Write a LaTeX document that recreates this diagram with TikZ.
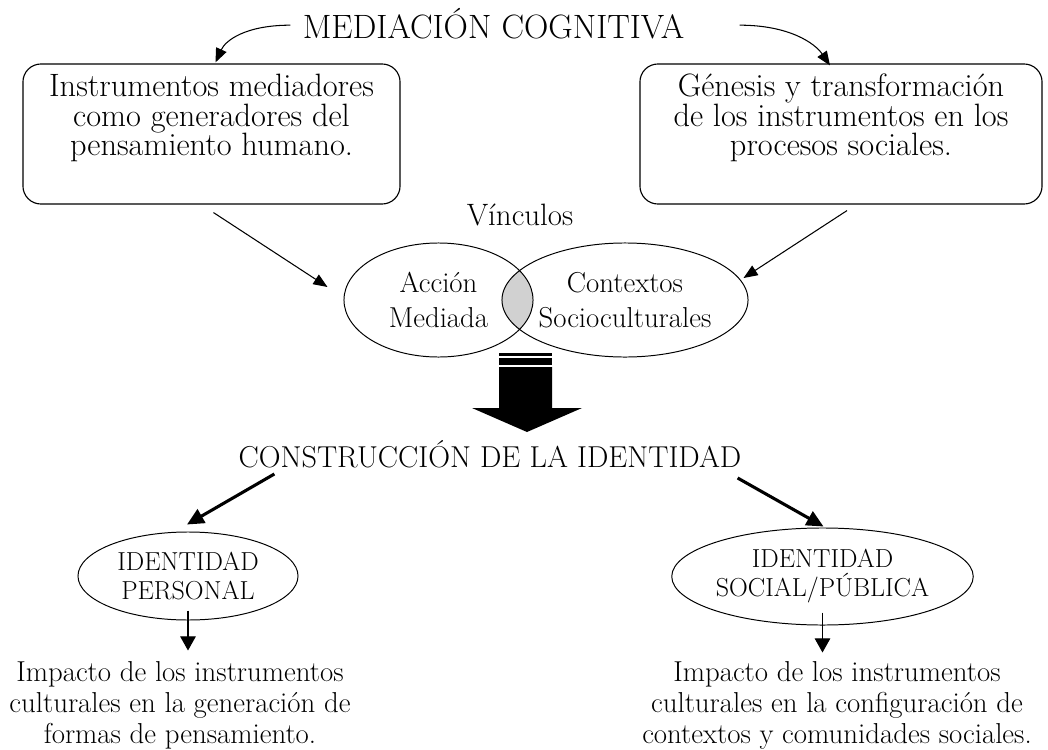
\documentclass[tikz,border=0pt]{standalone}
\usepackage{fontspec}
\usetikzlibrary{arrows.meta,shapes.geometric,calc}
\begin{document}
\begin{tikzpicture}[x=0.025cm,y=-0.025cm,
  lbl/.style={inner sep=0pt, align=center},
  roundbox/.style={draw, line width=0.8pt, rounded corners=0.45cm, minimum width=#1,
     minimum height=3.5cm, inner sep=0pt, align=center, font=\fontsize{23}{21}\selectfont},
  oval/.style={draw, ellipse, line width=0.7pt, inner sep=0pt, align=center},
  thinarr/.style={line width=0.75pt, -{Triangle[length=10pt,width=8pt]}},
  smallarr/.style={line width=0.75pt, -{Triangle[length=10pt,width=11pt]}},
  boldarr/.style={line width=2.2pt, -{Triangle[length=12pt,width=11pt]}},
  lens/.style={fill=black!18}
]
\fill[white] (0,0) rectangle (1048,750);
\useasboundingbox (0,0) rectangle (1048,750);

% titles
\node[lbl, anchor=base, font=\fontsize{24}{28}\selectfont] (med) at (493.5,38) {MEDIACIÓN COGNITIVA};
\node[lbl, anchor=base, font=\fontsize{22}{26}\selectfont] (vin) at (520,225) {Vínculos};
\node[lbl, anchor=base, font=\fontsize{21.5}{26}\selectfont] (cons) at (490,467) {CONSTRUCCIÓN DE LA IDENTIDAD};

% boxes
\node[roundbox=9.425cm] (boxL) at (211.5,134)
  {Instrumentos mediadores\\como generadores del\\pensamiento humano.\rule[-27pt]{0pt}{27pt}};
\node[roundbox=10.05cm] (boxR) at (841,134)
  {Génesis y transformación\\de los instrumentos en los\\procesos sociales.\rule[-27pt]{0pt}{27pt}};

% lens (intersection)
\coordinate (cL) at (438.5,300);
\coordinate (cR) at (625,300);
\begin{scope}
  \clip (cL) ellipse [x radius=2.3625cm, y radius=1.425cm];
  \fill[lens] (cR) ellipse [x radius=3.075cm, y radius=1.425cm];
\end{scope}

% overlapping ellipses
\node[oval, inner sep=-8pt, minimum width=4.725cm, minimum height=2.85cm, font=\fontsize{20.5}{25}\selectfont] (ellL) at (cL) {Acción\\Mediada};
\node[oval, inner sep=-8pt, minimum width=6.15cm, minimum height=2.85cm, font=\fontsize{20.5}{25}\selectfont] (ellR) at (cR) {Contextos\\Socioculturales};

% identity ellipses
\node[oval, minimum width=5.5cm, minimum height=2.2cm, font=\fontsize{18.5}{20.6}\selectfont] (idP) at (188,576) {IDENTIDAD\\PERSONAL};
\node[oval, minimum width=7.375cm, minimum height=2.425cm, font=\fontsize{18.5}{20.6}\selectfont] (idS) at (822.5,576.5) {IDENTIDAD\\SOCIAL/PÚBLICA};

% bottom texts
\node[lbl, anchor=north, font=\fontsize{20.5}{22}\selectfont] (impP) at (180,661)
  {Impacto de los instrumentos\\culturales en la generación de\\formas de pensamiento.};
\node[lbl, anchor=north, font=\fontsize{20.5}{22}\selectfont] (impS) at (837,661)
  {Impacto de los instrumentos\\culturales en la configuración de\\contextos y comunidades sociales.};

% curved arrows from title
\draw[thinarr] ($(med.west)+(-12,2)$) .. controls +(-45,0) and +(10,-22) .. ($(boxL.north)+(4,-1)$);
\draw[thinarr] ($(med.east)+(55,2)$) .. controls +(50,0) and +(-15,-22) .. ($(boxR.north)+(-11,2)$);

% thin arrows to ellipses
\draw[thinarr] ($(boxL.south)+(2,8)$) -- ($(ellL.west)+(-16,-13)$);
\draw[thinarr] ($(boxR.south)+(6,6)$) -- ($(ellR.east)+(-5,-22)$);

% block arrow
\fill (499,353) rectangle (552,355.5);
\fill (499,358) rectangle (552,365);
\fill (499,367) -- (552,367) -- (552,408) -- (582,408) -- (527,432) -- (472,408) -- (499,408) -- cycle;

% bold arrows
\draw[boldarr] ($(cons.base west)+(36,7)$) -- ($(idP.north)+(-1,-7)$);
\draw[boldarr] ($(cons.base east)+(-4,11)$) -- ($(idS.north)+(1,-1)$);

% small arrows
\draw[smallarr] ($(idP.south)+(0,-10)$) -- ($(idP.south)+(0,30)$);
\draw[smallarr] ($(idS.south)+(0,-13)$) -- ($(idS.south)+(0,27)$);
\end{tikzpicture}
\end{document}
